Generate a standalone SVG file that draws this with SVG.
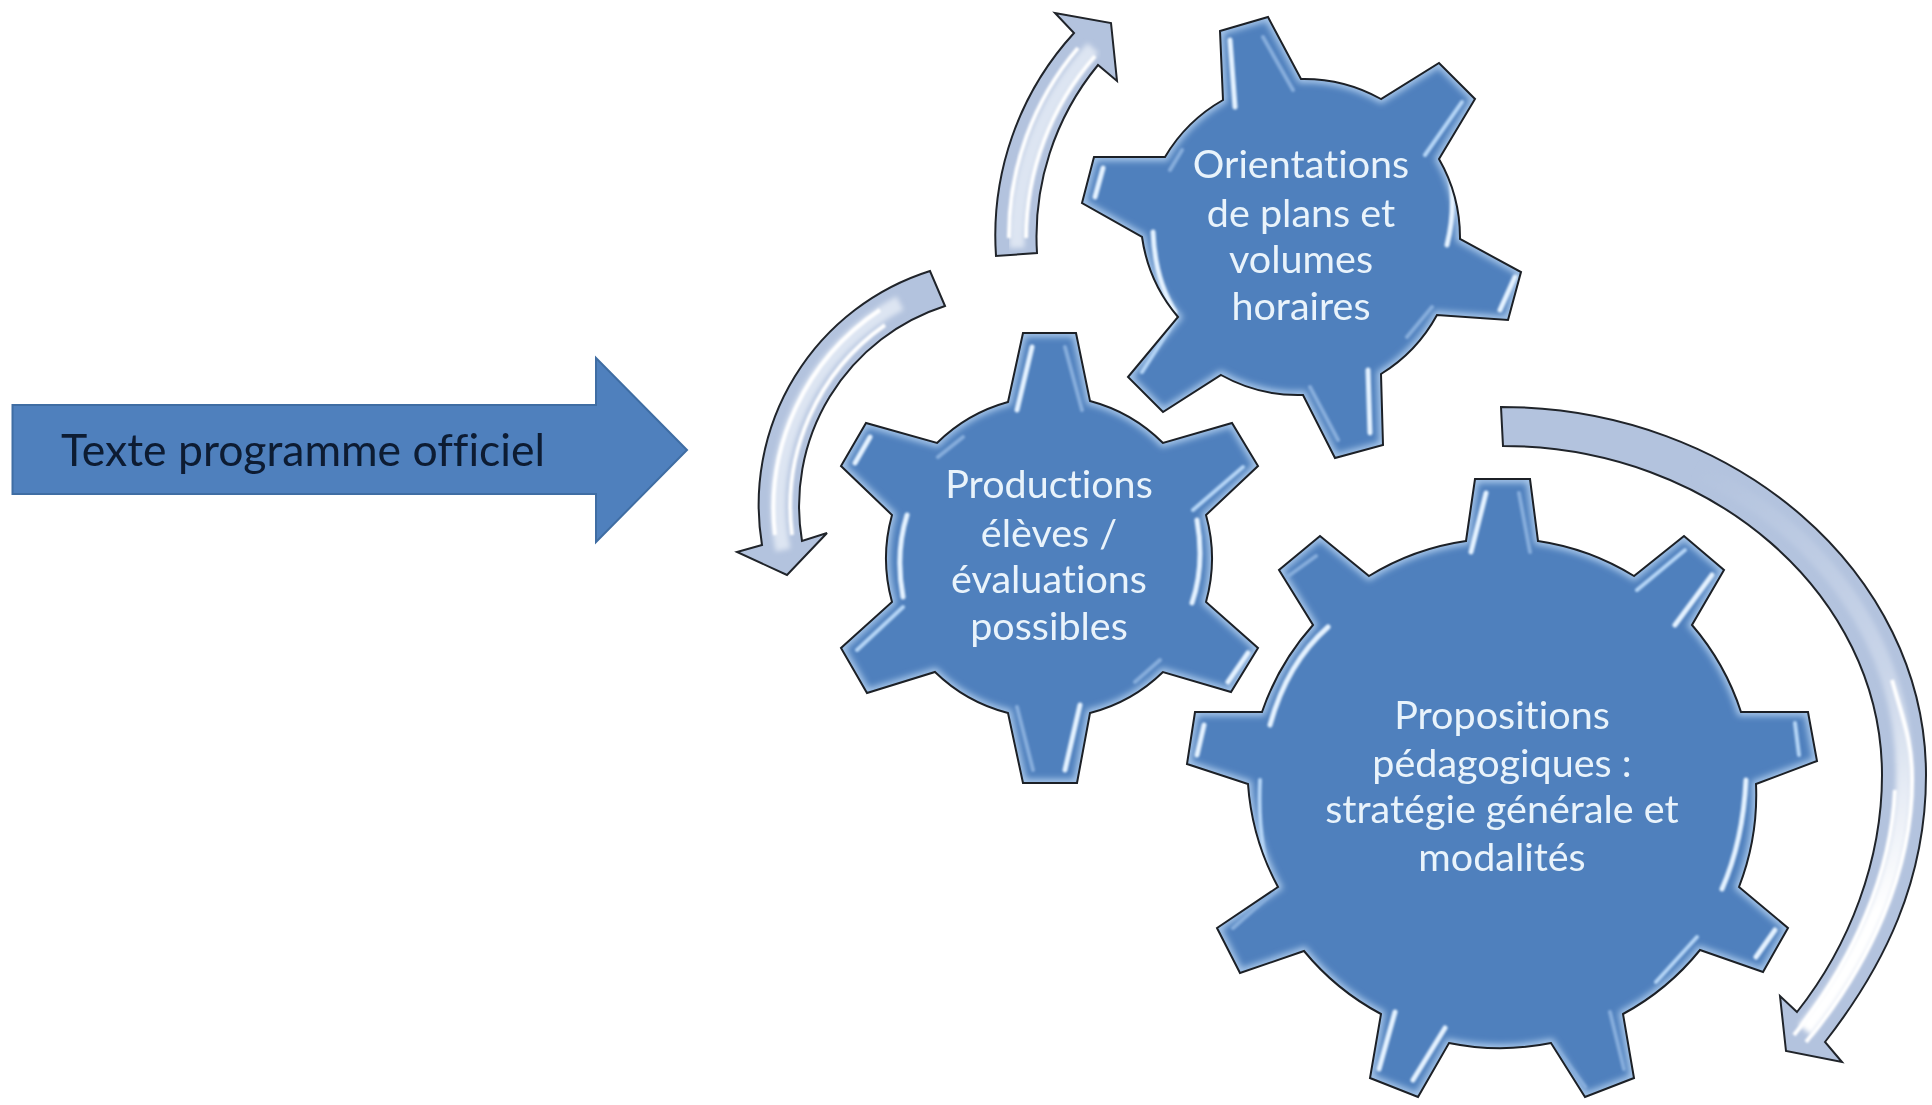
<svg xmlns="http://www.w3.org/2000/svg" width="1932" height="1105" viewBox="0 0 1932 1105">
<style>
text{font-variant-ligatures:none}
.body{fill:#4f80bd}
.glow{fill:none;stroke:#a9c8ea;stroke-width:8;filter:url(#b3)}
.edge{fill:none;stroke:#1c2026;stroke-width:2;stroke-linejoin:miter}
.hs,.hm,.hf{fill:none;stroke-linecap:round;filter:url(#b1)}
.hs{stroke:#e4f2ff;stroke-width:5}
.hm{stroke:#b5d5f6;stroke-width:4}
.hf{stroke:#86addc;stroke-width:4}
.lbl{font-family:Lato,"Open Sans",sans-serif;font-size:39.5px;fill:#e9f3fb;text-anchor:middle;filter:url(#b05)}
.a-base{fill:#b3c3de}
.a-edge{fill:none;stroke:#20242a;stroke-width:2;stroke-linejoin:miter}
.a-band{fill:none;stroke:#dde5f2;stroke-width:15;filter:url(#b2)}
.a-line{fill:none;stroke:#ffffff;stroke-width:4;filter:url(#b1)}
</style>
<defs>
<filter id="b05"><feGaussianBlur stdDeviation="0.4"/></filter>
<filter id="b1"><feGaussianBlur stdDeviation="0.8"/></filter>
<filter id="b2"><feGaussianBlur stdDeviation="2.5"/></filter>
<filter id="b3"><feGaussianBlur stdDeviation="3"/></filter>
<path id="p1" d="M1220 31L1268 17L1301 79A158 158 0 0 1 1381 99L1439 63L1475 99L1439 159A158 158 0 0 1 1460 239L1521 272L1508 320L1437 315A158 158 0 0 1 1381 374L1383 445L1335 458L1303 395A158 158 0 0 1 1221 375L1163 412L1128 377L1178 317A158 158 0 0 1 1142 237L1082 203L1094 157L1165 157A158 158 0 0 1 1223 100Z"/>
<path id="p2" d="M1023 333L1076 333L1090 401A162 162 0 0 1 1163 443L1232 423L1258 466L1206 515A162 162 0 0 1 1206 602L1258 648L1231 692L1163 672A162 162 0 0 1 1090 713L1077 783L1023 783L1008 713A162 162 0 0 1 935 672L867 693L841 648L892 602A162 162 0 0 1 892 515L841 466L866 423L937 443A162 162 0 0 1 1008 402Z"/>
<path id="p3" d="M1475 479L1530 479L1538 541A254 254 0 0 1 1634 576L1684 536L1724 570L1692 625A254 254 0 0 1 1741 712L1808 712L1817 761L1756 784A254 254 0 0 1 1739 887L1788 928L1763 972L1700 950A254 254 0 0 1 1623 1014L1634 1078L1585 1097L1551 1043A254 254 0 0 1 1449 1043L1418 1097L1370 1078L1381 1014A254 254 0 0 1 1304 951L1240 973L1217 928L1278 887A254 254 0 0 1 1248 784L1187 764L1195 712L1262 712A254 254 0 0 1 1313 625L1279 570L1320 536L1369 576A254 254 0 0 1 1466 541Z"/>
<clipPath id="c1"><use href="#p1"/></clipPath>
<clipPath id="c2"><use href="#p2"/></clipPath>
<clipPath id="c3"><use href="#p3"/></clipPath>
<linearGradient id="fade" gradientUnits="userSpaceOnUse" x1="1700" y1="470" x2="1900" y2="900">
<stop offset="0" stop-color="#b3c3de"/><stop offset="0.55" stop-color="#c9d5e9"/><stop offset="1" stop-color="#ffffff"/>
</linearGradient>
</defs>
<rect width="1932" height="1105" fill="#ffffff"/>

<g id="connectors">
<g id="arrow-top">
<path class="a-base" d="M996 256A300 300 0 0 1 1074 33L1055 13L1111 23L1117 81L1098 65A270 270 0 0 0 1037 253Z"/>
<path class="a-band" d="M1017 248A285 285 0 0 1 1093 48"/>
<path class="a-line" d="M1009 238A290 290 0 0 1 1078 48"/>
<path class="a-line" d="M1026 238A275 275 0 0 1 1095 56"/>
<path class="a-edge" d="M996 256A300 300 0 0 1 1074 33L1055 13L1111 23L1117 81L1098 65A270 270 0 0 0 1037 253Z"/>
</g>
<g id="arrow-left">
<path class="a-base" d="M930 271A245 245 0 0 0 762 545L737 552L787 575L827 533L802 541A210 210 0 0 1 945 306Z"/>
<path class="a-band" d="M900 303A228 228 0 0 0 783 550"/>
<path class="a-line" d="M880 310A238 238 0 0 0 775 535"/>
<path class="a-line" d="M885 325A222 222 0 0 0 792 535"/>
<path class="a-edge" d="M930 271A245 245 0 0 0 762 545L737 552L787 575L827 533L802 541A210 210 0 0 1 945 306Z"/>
</g>
<g id="arrow-right">
<path class="a-base" d="M1501 407C1735 407 1926 573 1926 775C1926 880 1885 965 1825 1042L1842 1062L1786 1051L1780 996L1797 1012C1850 945 1882 860 1882 775C1882 594 1711 446 1503 446Z"/>
<path d="M1700 472C1820 530 1904 640 1904 775C1904 870 1865 955 1805 1030" fill="none" stroke="url(#fade)" stroke-width="16" filter="url(#b2)"/>
<path d="M1892 680C1903 720 1912 740 1912 780C1912 870 1870 965 1806 1042" fill="none" stroke="#fff" stroke-width="4" filter="url(#b1)"/>
<path d="M1895 790C1892 870 1855 960 1794 1035" fill="none" stroke="#fff" stroke-width="4" filter="url(#b1)"/>
<path class="a-edge" d="M1501 407C1735 407 1926 573 1926 775C1926 880 1885 965 1825 1042L1842 1062L1786 1051L1780 996L1797 1012C1850 945 1882 860 1882 775C1882 594 1711 446 1503 446Z"/>
</g>
</g>

<g id="node-programme">
<path d="M12.500 405L596 405L596 358L687 450L596 542L596 494L12.500 494Z" fill="#4f80bd" stroke="#3f6da3" stroke-width="2"/>
<text x="61" y="466" font-family="Lato,'Open Sans',sans-serif" font-size="44.500" fill="#0a1a33" filter="url(#b05)">Texte programme officiel</text>
</g>

<g id="node-orientations">
<use href="#p1" class="body"/>
<g clip-path="url(#c1)">
<use href="#p1" class="glow"/>
<path class="hs" d="M1230 40L1235 107M1447 163Q1458 200 1447 245M1515 277L1500 310M1368 370L1370 433M1153 232Q1155 280 1175 312M1103 168L1095 197"/>
<path class="hm" d="M1462 102L1425 155M1142 372L1175 320"/>
<path class="hf" d="M1263 37L1293 90M1432 307L1407 337M1310 387L1338 440M1170 170L1182 150"/>
</g>
<use href="#p1" class="edge"/>
<text class="lbl" x="1301" y="178">Orientations</text>
<text class="lbl" x="1301" y="227">de plans et</text>
<text class="lbl" x="1301" y="273">volumes</text>
<text class="lbl" x="1301" y="320">horaires</text>
</g>

<g id="node-productions">
<use href="#p2" class="body"/>
<g clip-path="url(#c2)">
<use href="#p2" class="glow"/>
<path class="hs" d="M1032 347L1017 410M870 437L855 463M907 515Q895 553 903 597M1197 520Q1205 565 1192 603M1248 653L1228 682M1080 705L1065 770"/>
<path class="hm" d="M1243 467L1193 510M903 607L857 650"/>
<path class="hf" d="M1065 347L1082 410M938 457L963 437M1160 660L1135 682M1017 707L1033 770"/>
</g>
<use href="#p2" class="edge"/>
<text class="lbl" x="1049" y="498">Productions</text>
<text class="lbl" x="1049" y="547">élèves /</text>
<text class="lbl" x="1049" y="593">évaluations</text>
<text class="lbl" x="1049" y="640">possibles</text>
</g>

<g id="node-propositions">
<use href="#p3" class="body"/>
<g clip-path="url(#c3)">
<use href="#p3" class="glow"/>
<path class="hs" d="M1486 493L1471 552M1712 575L1675 625M1328 627Q1287 663 1270 725M1204 725L1197 755M1746 780Q1743 841 1722 889M1775 930L1756 957M1445 1028L1413 1080M1395 1012L1379 1069"/>
<path class="hm" d="M1685 550L1637 590M1795 723L1799 755M1260 780Q1257 846 1274 889M1697 937L1656 982"/>
<path class="hf" d="M1519 493L1530 552M1316 556L1287 577M1274 891L1233 928M1610 1012L1624 1069M1554 1046L1585 1087"/>
</g>
<use href="#p3" class="edge"/>
<text class="lbl" x="1502" y="729">Propositions</text>
<text class="lbl" x="1502" y="777">pédagogiques :</text>
<text class="lbl" x="1502" y="823">stratégie générale et</text>
<text class="lbl" x="1502" y="871">modalités</text>
</g>
</svg>
